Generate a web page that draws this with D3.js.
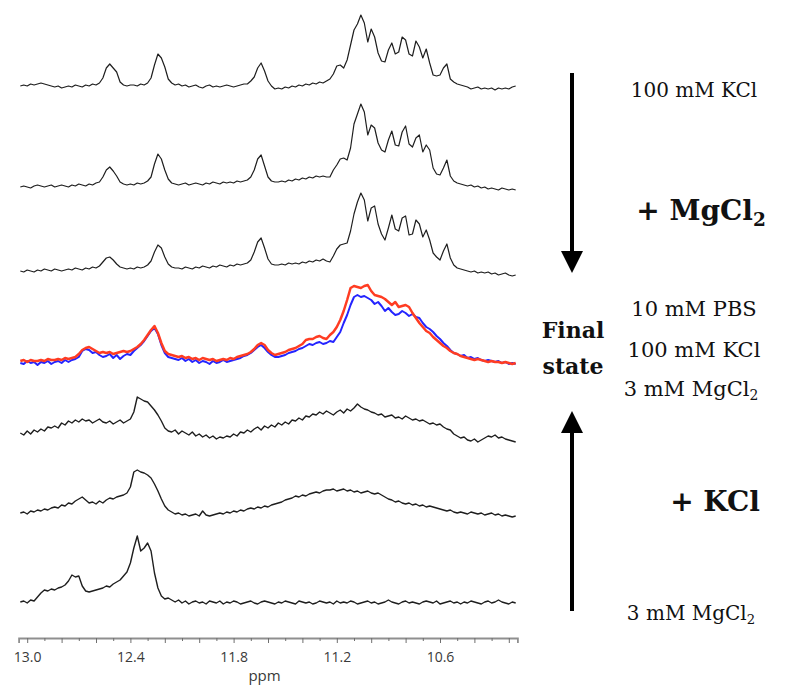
<!DOCTYPE html>
<html>
<head>
<meta charset="utf-8">
<script src="https://cdn.jsdelivr.net/npm/d3@7"></script>
<style>
  html, body { margin: 0; padding: 0; background: #fff; }
  svg { display: block; }
  .trace { fill: none; stroke: #1e1e1e; stroke-width: 1.2; stroke-linejoin: round; }
  .trace.noisy { stroke-width: 1.4; }
  .trace.blue { stroke: #2424ff; stroke-width: 2; }
  .trace.red { stroke: #ff3c22; stroke-width: 2.5; }
  .axis path.domain { stroke: #8f8f8f; stroke-width: 1.8; }
  .axis line { stroke: #6f6f6f; stroke-width: 1; }
  .axis text { font-family: "Open Sans", sans-serif; font-size: 14px; fill: #3a3a3a; }
  .axis-title { font-family: "Open Sans", sans-serif; font-size: 15px; fill: #3a3a3a; }
  .note { font-family: "DejaVu Serif", serif; font-size: 20px; fill: #111; }
  .note.bold { font-weight: bold; }
</style>
</head>
<body>
<svg id="nmr" width="795" height="686"></svg>
<script>
// sampling grid of the spectra (ppm), one value every 0.02 ppm from 13.04 down to 10.16
const ppmStart = 13.04;
const ppmStep = 0.02;

const tickValues = [13.0, 12.9, 12.8, 12.7, 12.6, 12.5, 12.4, 12.3, 12.2, 12.1, 12.0, 11.9, 11.8,
  11.7, 11.6, 11.5, 11.4, 11.3, 11.2, 11.1, 11.0, 10.9, 10.8, 10.7, 10.6, 10.5, 10.4, 10.3, 10.2];
const labelledTicks = [13.0, 12.4, 11.8, 11.2, 10.6];

// intensities (arbitrary units), top trace first
const kcl100 = [
  1, 2, 1, 3, 2, 3, 4, 3, 2, 1,
  0, 1, -1, 0, 1, 0, 2, 1, 0, 2,
  1, 3, 2, 4, 9, 19, 23, 19, 15, 5,
  2, 1, 2, 2, 1, 3, 2, 4, 9, 22,
  33, 29, 20, 8, 4, 2, 3, 1, 2, 0,
  1, 2, 0, -1, 1, 2, 0, 1, 0, 1,
  2, 1, 0, 1, 2, 3, 3, 6, 10, 19,
  24, 16, 6, 1, -2, -1, -2, 0, -1, 1,
  0, 2, 1, 3, 2, 4, 3, 5, 4, 6,
  8, 13, 21, 22, 19, 27, 42, 57, 63, 72,
  64, 45, 58, 50, 34, 26, 25, 37, 44, 33,
  35, 50, 47, 33, 31, 46, 40, 29, 38, 24,
  12, 11, 12, 19, 23, 8, 5, 3, 2, 1,
  0, -2, -1, 0, -2, -1, -2, -1, -3, -1,
  -2, -1, -2, 0, 1
];

const mgStep1 = [
  3, 4, 3, 2, 4, 5, 4, 3, 4, 5,
  3, 4, 5, 4, 3, 5, 4, 6, 5, 4,
  6, 5, 7, 8, 13, 20, 23, 19, 14, 8,
  6, 5, 6, 5, 7, 6, 7, 9, 13, 26,
  36, 31, 20, 11, 7, 6, 5, 6, 7, 5,
  6, 7, 6, 5, 7, 6, 8, 7, 6, 8,
  7, 8, 7, 9, 8, 9, 10, 13, 20, 31,
  35, 24, 13, 9, 8, 8, 9, 8, 10, 9,
  11, 10, 12, 11, 13, 12, 14, 13, 14, 13,
  13, 20, 25, 31, 32, 30, 42, 66, 76, 86,
  78, 55, 65, 62, 47, 40, 38, 50, 59, 45,
  44, 58, 64, 46, 43, 52, 55, 38, 45, 40,
  22, 16, 15, 22, 30, 14, 9, 7, 6, 5,
  4, 5, 3, 4, 2, 3, 1, 2, 1, 0,
  2, 1, 0, 1, 0
];

const mgStep2 = [
  5, 4, 6, 5, 4, 6, 5, 7, 6, 5,
  7, 6, 5, 6, 7, 6, 8, 7, 6, 8,
  7, 9, 8, 10, 14, 18, 19, 16, 12, 9,
  8, 7, 8, 7, 9, 8, 9, 11, 15, 24,
  31, 28, 19, 12, 9, 8, 8, 7, 9, 8,
  7, 9, 8, 10, 9, 8, 10, 9, 11, 10,
  9, 11, 10, 12, 11, 12, 13, 16, 24, 34,
  38, 28, 17, 12, 11, 11, 12, 11, 13, 12,
  13, 12, 14, 13, 15, 14, 16, 15, 17, 15,
  14, 20, 27, 31, 32, 33, 45, 62, 74, 83,
  76, 55, 68, 70, 52, 42, 36, 48, 61, 47,
  45, 58, 60, 41, 42, 56, 52, 39, 46, 36,
  23, 19, 16, 25, 32, 18, 11, 8, 7, 6,
  5, 4, 5, 3, 4, 3, 4, 2, 3, 1,
  2, 3, 1, 0, 1
];

// final state, reached from the two directions
const finalRed = [
  2, 3, 1, 3, 2, 2, 3, 2, 4, 3,
  3, 4, 3, 5, 4, 5, 6, 9, 13, 15,
  16, 14, 12, 10, 11, 10, 11, 9, 10, 11,
  12, 11, 12, 14, 16, 19, 23, 28, 33, 37,
  30, 20, 12, 9, 8, 7, 6, 7, 5, 6,
  4, 5, 3, 5, 4, 3, 4, 2, 3, 4,
  3, 5, 4, 6, 7, 8, 9, 11, 14, 18,
  20, 18, 13, 10, 8, 9, 10, 11, 13, 14,
  15, 17, 19, 23, 24, 24, 26, 27, 25, 24,
  28, 31, 36, 43, 52, 63, 75, 77, 76, 75,
  77, 78, 72, 68, 67, 66, 64, 61, 58, 61,
  56, 57, 58, 56, 50, 45, 40, 36, 32, 30,
  26, 23, 20, 17, 15, 12, 10, 9, 7, 6,
  5, 4, 3, 4, 3, 2, 1, 2, 1, 1,
  0, 1, 0, -1, 0
];

const finalBlue = [
  0, -1, 2, 0, 1, -2, 1, 0, 2, -1,
  1, 2, 0, 3, 1, 3, 4, 6, 12, 14,
  13, 10, 11, 8, 6, 7, 9, 5, 8, 4,
  7, 9, 8, 12, 15, 18, 22, 27, 32, 35,
  29, 18, 10, 6, 5, 4, 3, 5, 2, 4,
  1, 3, 0, 2, 1, -1, 2, 0, 1, 3,
  1, 2, 3, 4, 5, 7, 8, 10, 13, 16,
  18, 15, 11, 8, 6, 6, 7, 8, 10, 11,
  12, 14, 15, 17, 19, 18, 20, 21, 19, 20,
  22, 21, 26, 31, 40, 48, 58, 66, 68, 66,
  67, 65, 63, 59, 61, 57, 52, 55, 51, 48,
  49, 52, 50, 47, 49, 46, 45, 40, 36, 34,
  31, 27, 24, 20, 17, 13, 10, 9, 7, 8,
  5, 6, 4, 5, 3, 2, 3, 2, 1, 2,
  0, 1, -1, 0, -1
];

const kclStep2 = [
  7, 5, 9, 6, 10, 8, 11, 9, 13, 12,
  14, 12, 17, 15, 19, 17, 20, 18, 21, 19,
  20, 17, 19, 21, 18, 17, 19, 16, 18, 20,
  17, 19, 21, 28, 43, 41, 39, 38, 34, 30,
  25, 19, 12, 9, 8, 10, 6, 9, 7, 5,
  8, 4, 6, 3, 5, 2, 4, 1, 3, 2,
  4, 3, 6, 4, 8, 7, 10, 8, 11, 13,
  10, 14, 12, 15, 13, 17, 15, 18, 16, 20,
  19, 22, 20, 24, 23, 26, 25, 28, 26, 29,
  27, 25, 28, 30, 27, 31, 29, 32, 36, 33,
  31, 30, 28, 27, 25, 26, 23, 24, 25, 22,
  23, 21, 24, 22, 20, 21, 19, 20, 18, 16,
  17, 15, 16, 13, 11, 10, 6, 4, 2, 3,
  0, -1, 1, -2, 0, 2, 4, 3, 5, 2,
  3, 1, 0, -1, -2
];

const kclStep1 = [
  4, 5, 3, 6, 5, 7, 6, 8, 7, 9,
  10, 9, 12, 11, 14, 13, 16, 18, 20, 17,
  14, 15, 13, 16, 14, 17, 19, 18, 20, 21,
  22, 24, 30, 45, 47, 45, 44, 42, 39, 33,
  26, 18, 11, 7, 5, 3, 4, 2, 3, 1,
  2, 3, 1, 6, 2, 1, 2, 3, 4, 3,
  5, 4, 6, 5, 7, 6, 8, 9, 8, 10,
  9, 11, 10, 12, 13, 14, 15, 17, 18, 19,
  21, 20, 22, 21, 23, 24, 25, 24, 26, 27,
  27, 28, 26, 27, 28, 26, 27, 25, 26, 24,
  25, 26, 24, 23, 24, 22, 20, 18, 17, 15,
  16, 14, 13, 14, 12, 13, 11, 12, 10, 11,
  10, 9, 8, 7, 6, 7, 5, 4, 5, 4,
  3, 5, 4, 3, 4, 2, 3, 4, 2, 3,
  1, 2, 1, 0, 1
];

const mg3 = [
  1, 2, 0, 3, 2, 6, 10, 13, 12, 14,
  13, 15, 16, 18, 22, 28, 26, 27, 17, 12,
  11, 12, 13, 14, 15, 17, 16, 19, 21, 23,
  27, 31, 40, 55, 67, 52, 55, 60, 52, 30,
  15, 7, 4, 5, 3, 1, 3, 0, 2, -1,
  1, 2, 0, 1, -1, 2, 1, 0, 2, -1,
  1, 0, 2, 1, -1, 0, 1, 2, 0, -1,
  1, 2, 1, 0, -1, 1, 0, 2, 1, 0,
  -1, 2, 1, 0, 1, -1, 0, 2, 1, 0,
  1, -1, 2, 0, 1, 0, 2, 1, -1, 0,
  1, 2, 0, 1, -1, 0, 1, 3, 1, 0,
  -1, 1, 2, 0, 1, 0, -1, 1, 2, 1,
  0, 2, -1, 0, 1, 2, 0, 1, -1, 1,
  0, 2, 1, 0, -1, 1, 2, 0, 1, 3,
  1, 0, -1, 1, 0
];

const width = 795;
const height = 686;
const axisY = 638;

// vertical stacking of the spectra, in intensity units above the bottom trace
const layers = [
  { values: kcl100, offset: 516, cls: "trace" },
  { values: mgStep1, offset: 413, cls: "trace" },
  { values: mgStep2, offset: 327, cls: "trace" },
  { values: finalBlue, offset: 240, cls: "trace blue" },
  { values: finalRed, offset: 240, cls: "trace red" },
  { values: kclStep2, offset: 163, cls: "trace noisy" },
  { values: kclStep1, offset: 86, cls: "trace noisy" },
  { values: mg3, offset: 0, cls: "trace noisy" }
];

const svg = d3.select("#nmr");
const x = d3.scaleLinear().domain([13.05, 10.15]).range([18.6, 517.4]);
const y = d3.scaleLinear().domain([-35, 603]).range([axisY, 0]);

function ppmAt(i) {
  return ppmStart - i * ppmStep;
}

function drawSpectra() {
  const g = svg.append("g").attr("class", "spectra");
  layers.forEach((layer) => {
    const line = d3.line()
      .x((_, i) => x(ppmAt(i)))
      .y((d) => y(layer.offset + d));
    g.append("path")
      .attr("class", layer.cls)
      .attr("d", line(layer.values));
  });
}

function drawAxis() {
  const axis = d3.axisBottom(x)
    .tickValues(tickValues)
    .tickSizeOuter(0)
    .tickSize(5)
    .tickFormat((d) => (labelledTicks.some((t) => Math.abs(t - d) < 1e-6) ? d.toFixed(1) : ""));

  const g = svg.append("g")
    .attr("class", "axis")
    .attr("transform", `translate(0,${axisY})`)
    .call(axis);

  g.selectAll(".tick line")
    .attr("y2", (d) => (Math.round(d * 10) % 2 === 0 ? 5 : 3));
  g.selectAll(".tick text").attr("y", 14);

  svg.append("text")
    .attr("class", "axis-title")
    .attr("x", x(11.62))
    .attr("y", 681)
    .attr("text-anchor", "middle")
    .text("ppm");
}

function arrow(x0, yTail, yTip) {
  const dir = yTip > yTail ? 1 : -1;
  const headLen = 22;
  const headHalf = 11;
  svg.append("line")
    .attr("x1", x0).attr("x2", x0)
    .attr("y1", yTail).attr("y2", yTip - dir * headLen + dir * 2)
    .attr("stroke", "#000").attr("stroke-width", 4);
  svg.append("path")
    .attr("d", `M${x0 - headHalf},${yTip - dir * headLen} L${x0 + headHalf},${yTip - dir * headLen} L${x0},${yTip} Z`)
    .attr("fill", "#000");
}

function note(text, xPos, yPos, opts = {}) {
  const t = svg.append("text")
    .attr("class", `note${opts.bold ? " bold" : ""}`)
    .attr("x", xPos)
    .attr("y", yPos)
    .attr("text-anchor", opts.anchor || "middle")
    .style("font-size", `${opts.size || 20}px`);
  t.append("tspan").text(text);
  if (opts.sub) {
    t.append("tspan")
      .attr("dy", "0.32em")
      .style("font-size", "66%")
      .text(opts.sub);
  }
}

function drawNotes() {
  arrow(572, 73, 273);
  arrow(572, 611, 411);

  note("100 mM KCl", 694, 97);
  note("+ MgCl", 701, 220, { bold: true, size: 28, sub: "2" });

  note("Final", 573, 338, { bold: true, size: 22 });
  note("state", 573, 374, { bold: true, size: 22 });
  note("10 mM PBS", 694, 316, { size: 21 });
  note("100 mM KCl", 694, 357, { size: 21 });
  note("3 mM MgCl", 691, 396, { size: 21, sub: "2" });

  note("+ KCl", 715, 511, { bold: true, size: 28 });
  note("3 mM MgCl", 691, 620, { sub: "2" });
}

drawSpectra();
drawAxis();
drawNotes();
</script>
</body>
</html>
